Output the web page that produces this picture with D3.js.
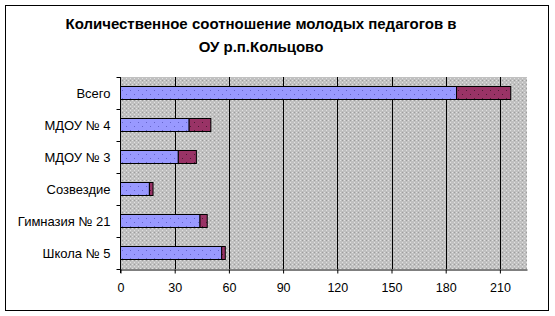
<!DOCTYPE html>
<html>
<head>
<meta charset="utf-8">
<script src="https://cdn.jsdelivr.net/npm/d3@7"></script>
<style>
	body { margin: 0; background: #fff; }
	svg { display: block; font-family: Arial, "Liberation Sans", sans-serif; }
</style>
</head>
<body>
<svg width="555" height="316"></svg>
<script>
'use strict'

// Data
const categories = ['Всего', 'МДОУ № 4', 'МДОУ № 3', 'Созвездие', 'Гимназия № 21', 'Школа № 5']
const seriesA = [186, 38, 32, 16, 44, 56]
const seriesB = [30, 12, 10, 2, 4, 2]
const xTicks = [0, 30, 60, 90, 120, 150, 180, 210]
const titleLines = ['Количественное соотношение молодых педагогов в', 'ОУ р.п.Кольцово']

const svg = d3.select('svg')
const plot = { left: 120.5, right: 527, top: 77, bottom: 269 }

// Patterns
const defs = svg.append('defs')
const bg = defs.append('pattern').attr('id', 'bgPat')
	.attr('patternUnits', 'userSpaceOnUse').attr('width', 4).attr('height', 4)
bg.append('rect').attr('width', 4).attr('height', 4).attr('fill', '#c0c0c0')
bg.append('rect').attr('x', 0).attr('y', 0).attr('width', 1).attr('height', 1).attr('fill', '#e0e0e0')
bg.append('rect').attr('x', 2).attr('y', 2).attr('width', 1).attr('height', 1).attr('fill', '#e0e0e0')
bg.append('rect').attr('x', 2).attr('y', 0).attr('width', 1).attr('height', 1).attr('fill', '#9c9c9c')

const mkDots = (id, base, dot) => {
	const p = defs.append('pattern').attr('id', id)
		.attr('patternUnits', 'userSpaceOnUse').attr('width', 8).attr('height', 8)
	p.append('rect').attr('width', 8).attr('height', 8).attr('fill', base)
	p.append('rect').attr('x', 2).attr('y', 2).attr('width', 1).attr('height', 1).attr('fill', dot)
	p.append('rect').attr('x', 6).attr('y', 6).attr('width', 1).attr('height', 1).attr('fill', dot)
}
mkDots('blueDots', '#9999ff', '#6666cc')
mkDots('redDots', '#993366', '#4d1a33')

// Outer border
svg.append('rect').attr('x', 5.5).attr('y', 5.5).attr('width', 543).attr('height', 305)
	.attr('fill', '#fff').attr('stroke', '#000').attr('stroke-width', 1)

// Title
svg.append('g').selectAll('text').data(titleLines).enter().append('text')
	.attr('x', 261).attr('y', (d, i) => 29 + i * 23)
	.attr('text-anchor', 'middle')
	.attr('font-size', 15).attr('font-weight', 'bold')
	.text(d => d)

const x = d3.scaleLinear().domain([0, 225]).range([plot.left, plot.right])
const y = d3.scaleBand().domain(categories).range([plot.top, plot.bottom]).paddingInner(0.58).paddingOuter(0.29)

// Plot background
svg.append('rect').attr('x', plot.left).attr('y', plot.top)
	.attr('width', plot.right - plot.left).attr('height', plot.bottom - plot.top)
	.attr('fill', 'url(#bgPat)')

// Gridlines
svg.append('g').selectAll('line').data(xTicks.slice(1)).enter().append('line')
	.attr('x1', d => Math.round(x(d)) + 0.5).attr('x2', d => Math.round(x(d)) + 0.5)
	.attr('y1', plot.top).attr('y2', plot.bottom)
	.attr('stroke', '#000').attr('stroke-width', 1)

// Bars
const bars = svg.append('g')
categories.forEach((c, i) => {
	const y0 = Math.round(y(c)) + 0.5
	const h = Math.round(y.bandwidth())
	bars.append('rect')
		.attr('x', x(0)).attr('y', y0)
		.attr('width', x(seriesA[i]) - x(0)).attr('height', h)
		.attr('fill', 'url(#blueDots)').attr('stroke', '#000').attr('stroke-width', 1)
	bars.append('rect')
		.attr('x', x(seriesA[i])).attr('y', y0)
		.attr('width', x(seriesA[i] + seriesB[i]) - x(seriesA[i])).attr('height', h)
		.attr('fill', 'url(#redDots)').attr('stroke', '#000').attr('stroke-width', 1)
})

// X axis
const xAxis = svg.append('g').attr('transform', `translate(0,${plot.bottom + 0.5})`)
	.call(d3.axisBottom(x).tickValues(xTicks).tickSize(4).tickSizeOuter(0))
xAxis.select('.domain').attr('stroke', '#000')
xAxis.selectAll('text').attr('font-size', 12.5).attr('font-family', 'Arial, "Liberation Sans", sans-serif')
	.attr('fill', '#000').attr('dy', '1.2em')

// Y axis
const yAxisG = svg.append('g').attr('transform', `translate(${Math.round(plot.left) - 0.5},0)`)
yAxisG.append('line').attr('x1', 0).attr('x2', 0).attr('y1', plot.top).attr('y2', plot.bottom + 4)
	.attr('stroke', '#000')
const bounds = categories.map(c => y(c) - y.step() * y.paddingInner() / 2).concat([plot.bottom])
yAxisG.selectAll('line.tk').data(bounds).enter().append('line').classed('tk', true)
	.attr('x1', -4).attr('x2', 0)
	.attr('y1', d => Math.round(d) + 0.5).attr('y2', d => Math.round(d) + 0.5)
	.attr('stroke', '#000')
yAxisG.selectAll('text').data(categories).enter().append('text')
	.attr('x', -10).attr('y', c => y(c) + y.bandwidth() / 2)
	.attr('dy', '0.35em').attr('text-anchor', 'end')
	.attr('font-size', 13)
	.text(d => d)
</script>
</body>
</html>
